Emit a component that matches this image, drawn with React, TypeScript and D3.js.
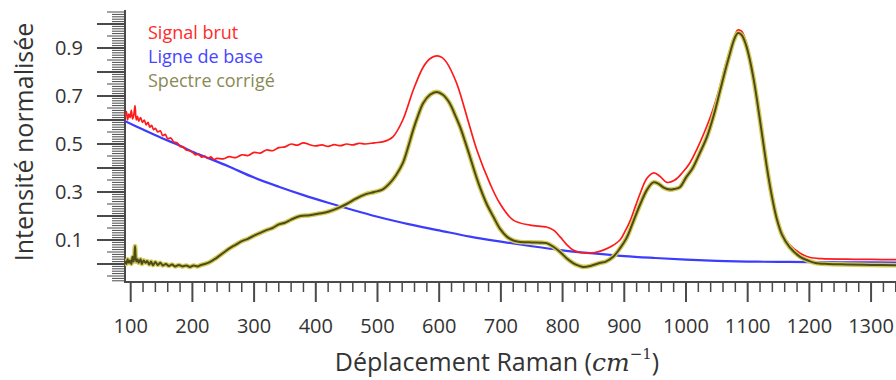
import React from 'react';
import * as d3 from 'd3';

// Raw signal (Signal brut)
const rawShift = [91, 93, 95, 97, 99, 101, 103, 105, 107, 109, 111, 113, 116, 119, 122, 125, 128, 131, 134, 137, 140, 144, 148, 152, 156, 160, 165, 170, 175, 180, 185, 190, 195, 200, 205, 210, 215, 220, 225, 230, 235, 240, 250, 260, 270, 280, 290, 300, 310, 320, 330, 340, 350, 360, 370, 380, 390, 400, 410, 420, 430, 440, 450, 460, 470, 480, 495, 510, 525, 541, 558, 574, 585, 596, 605, 612, 628, 645, 661, 682, 698, 720, 747, 774, 786, 796, 807, 817, 828, 839, 852, 866, 880, 893, 902, 910, 918, 926, 937, 948, 958, 969, 982, 994, 1006, 1018, 1030, 1042, 1055, 1063, 1071, 1078, 1084, 1090, 1097, 1104, 1110, 1115, 1123, 1131, 1139, 1147, 1156, 1168, 1185, 1200, 1220, 1260, 1300, 1341];
const rawValues = [0.615, 0.635, 0.6, 0.625, 0.61, 0.64, 0.605, 0.62, 0.66, 0.6, 0.615, 0.595, 0.61, 0.59, 0.6, 0.58, 0.59, 0.57, 0.578, 0.56, 0.565, 0.55, 0.555, 0.535, 0.54, 0.522, 0.525, 0.508, 0.505, 0.49, 0.488, 0.475, 0.472, 0.465, 0.455, 0.458, 0.445, 0.45, 0.44, 0.446, 0.435, 0.44, 0.438, 0.447, 0.443, 0.455, 0.452, 0.465, 0.462, 0.475, 0.472, 0.485, 0.488, 0.5, 0.495, 0.505, 0.497, 0.492, 0.496, 0.49, 0.497, 0.493, 0.5, 0.496, 0.503, 0.5, 0.505, 0.51, 0.53, 0.6, 0.725, 0.82, 0.855, 0.867, 0.86, 0.84, 0.755, 0.613, 0.475, 0.337, 0.254, 0.183, 0.162, 0.154, 0.14, 0.113, 0.08, 0.058, 0.048, 0.046, 0.048, 0.058, 0.075, 0.1, 0.14, 0.183, 0.24, 0.296, 0.358, 0.38, 0.365, 0.34, 0.35, 0.38, 0.42, 0.48, 0.55, 0.63, 0.74, 0.82, 0.89, 0.945, 0.975, 0.97, 0.93, 0.86, 0.78, 0.7, 0.56, 0.42, 0.3, 0.2, 0.13, 0.08, 0.045, 0.028, 0.022, 0.02, 0.019, 0.018];

// Baseline (Ligne de base)
const baseShift = [91, 120, 150, 180, 200, 230, 260, 300, 340, 380, 420, 460, 500, 550, 600, 650, 700, 750, 800, 850, 900, 950, 1000, 1050, 1100, 1150, 1200, 1270, 1341];
const baseValues = [0.595, 0.56, 0.525, 0.493, 0.468, 0.437, 0.405, 0.36, 0.322, 0.287, 0.255, 0.225, 0.197, 0.166, 0.14, 0.114, 0.093, 0.074, 0.057, 0.044, 0.033, 0.025, 0.018, 0.013, 0.01, 0.009, 0.008, 0.007, 0.006];

// Corrected spectrum (Spectre corrigé)
const corrShift = [91, 93, 95, 97, 99, 101, 103, 105, 107, 109, 111, 113, 116, 118, 121, 124, 127, 130, 133, 136, 140, 144, 148, 152, 157, 162, 167, 172, 178, 184, 190, 196, 202, 208, 214, 220, 228, 236, 244, 252, 260, 270, 280, 290, 300, 310, 321, 330, 340, 350, 360, 375, 390, 405, 420, 435, 450, 465, 480, 495, 508, 520, 530, 541, 550, 558, 566, 574, 585, 596, 606, 617, 625, 634, 642, 650, 658, 666, 677, 688, 699, 710, 720, 731, 750, 765, 774, 785, 796, 806, 817, 825, 833, 845, 860, 870, 882, 893, 904, 915, 926, 937, 947, 955, 964, 974, 982, 990, 1000, 1011, 1022, 1034, 1045, 1055, 1063, 1071, 1078, 1084, 1090, 1097, 1104, 1110, 1115, 1123, 1131, 1139, 1147, 1156, 1168, 1185, 1200, 1210, 1230, 1260, 1300, 1341];
const corrValues = [0.01, 0.0, 0.02, 0.005, 0.015, 0.0, 0.03, 0.01, 0.075, 0.01, 0.02, 0.005, 0.02, 0.0, 0.015, 0.005, 0.012, -0.002, 0.01, -0.005, 0.008, -0.004, 0.005, -0.006, 0.0, -0.008, -0.002, -0.01, -0.004, -0.01, -0.006, -0.012, -0.006, -0.01, -0.004, 0.0, 0.008, 0.02, 0.035, 0.05, 0.065, 0.08, 0.095, 0.105, 0.118, 0.13, 0.142, 0.15, 0.165, 0.172, 0.185, 0.2, 0.203, 0.21, 0.218, 0.232, 0.25, 0.272, 0.29, 0.3, 0.31, 0.337, 0.37, 0.42, 0.49, 0.56, 0.62, 0.67, 0.705, 0.717, 0.705, 0.67, 0.625, 0.57, 0.51, 0.446, 0.38, 0.32, 0.25, 0.196, 0.145, 0.113, 0.098, 0.092, 0.09, 0.089, 0.087, 0.072, 0.05, 0.025, 0.004, -0.006, -0.012, -0.008, 0.004, 0.01, 0.03, 0.065, 0.11, 0.18, 0.25, 0.31, 0.34, 0.335, 0.318, 0.31, 0.313, 0.32, 0.36, 0.4, 0.46, 0.53, 0.62, 0.72, 0.8, 0.875, 0.935, 0.962, 0.955, 0.915, 0.845, 0.765, 0.685, 0.545, 0.405, 0.285, 0.19, 0.12, 0.07, 0.03, 0.012, 0.004, 0.0, -0.002, -0.004, -0.005];

const xMajorTicks = [100, 200, 300, 400, 500, 600, 700, 800, 900, 1000, 1100, 1200, 1300];
const yLabelTicks = [0.1, 0.3, 0.5, 0.7, 0.9];
const legendLabels = ['Signal brut', 'Ligne de base', 'Spectre corrigé'];
const legendColors = ['#ff2a2a', '#4646ff', '#8a8a55'];

export default function App() {
  const left = 125, right = 896, top = 24, zeroY = 264, axisY = 282, axisTop = 10;
  const x = d3.scaleLinear().domain([90.76, 1340.4]).range([left, right]);
  const y = d3.scaleLinear().domain([0, 1]).range([zeroY, top]);

  const mkLine = (xs: number[], vs: number[]) =>
    d3.line<number>()
      .x((_, i) => x(xs[i]))
      .y((d) => y(d))
      .curve(d3.curveCatmullRom.alpha(0.5))(vs) || '';

  const rawPath = mkLine(rawShift, rawValues);
  const basePath = mkLine(baseShift, baseValues);
  const corrPath = mkLine(corrShift, corrValues);

  const xMinor = d3.range(100, 1341, 20).filter((v) => v % 100 !== 0);
  const yMinor = d3.range(-7, 106).map((i) => i);

  const font = "'Open Sans', sans-serif";

  return (
    <svg width={896} height={380} style={{ position: 'absolute', left: 0, top: 0, background: '#fff' }}>
      <defs>
        <clipPath id="plotClip">
          <rect x={left} y={0} width={right - left} height={axisY} />
        </clipPath>
      </defs>

      {/* Y axis comb */}
      <g stroke="#4a4a4a">
        {yMinor.map((i) => {
          const yy = y(i / 100);
          if (yy < axisTop || yy > axisY) return null;
          const len = i % 10 === 0 ? 28 : i % 5 === 0 ? 18 : 13;
          return <line key={i} x1={left - len} x2={left} y1={yy} y2={yy} strokeWidth={i % 10 === 0 ? 2 : 1} />;
        })}
        <line x1={left} x2={left} y1={axisTop} y2={axisY + 1} strokeWidth={2} />
      </g>
      <g fontFamily={font} fontSize={20} fill="#333" textAnchor="end">
        {yLabelTicks.map((t) => (
          <text key={t} x={83} y={y(t)} dy="0.35em">{t.toFixed(1)}</text>
        ))}
      </g>

      {/* X axis */}
      <g stroke="#4a4a4a">
        <line x1={left} x2={right} y1={axisY} y2={axisY} strokeWidth={2} />
        {xMajorTicks.map((t) => (
          <line key={t} x1={x(t)} x2={x(t)} y1={axisY} y2={axisY + 20} strokeWidth={2} />
        ))}
        {xMinor.map((t) => (
          <line key={t} x1={x(t)} x2={x(t)} y1={axisY} y2={axisY + 10} strokeWidth={1.5} />
        ))}
      </g>
      <g fontFamily={font} fontSize={20} fill="#333" textAnchor="middle">
        {xMajorTicks.map((t) => (
          <text key={t} x={x(t)} y={333}>{t}</text>
        ))}
      </g>

      {/* Axis titles */}
      <text x={497} y={371} textAnchor="middle" fontFamily={font} fontSize={25} fill="#333">
        Déplacement Raman (
        <tspan fontFamily="'DejaVu Serif', serif" fontStyle="italic">cm</tspan>
        <tspan fontFamily="'DejaVu Serif', serif" fontSize={15} dy={-12}>−1</tspan>
        <tspan dy={12}>)</tspan>
      </text>
      <text transform="translate(33,142) rotate(-90)" textAnchor="middle" fontFamily={font} fontSize={25} fill="#333">
        Intensité normalisée
      </text>

      {/* Series */}
      <g clipPath="url(#plotClip)" fill="none" strokeLinejoin="round" strokeLinecap="round">
        <path d={basePath} stroke="#3c3cff" strokeWidth={2.2} />
        <path d={rawPath} stroke="#ff1a1a" strokeWidth={1.7} />
        <path d={corrPath} stroke="#d2cc55" strokeWidth={4.6} />
        <path d={corrPath} stroke="#4e4a1e" strokeWidth={2} />
      </g>

      {/* Legend */}
      <g fontFamily={font} fontSize={18}>
        {legendLabels.map((l, i) => (
          <text key={l} x={148} y={39 + i * 24} fill={legendColors[i]}>{l}</text>
        ))}
      </g>
    </svg>
  );
}
